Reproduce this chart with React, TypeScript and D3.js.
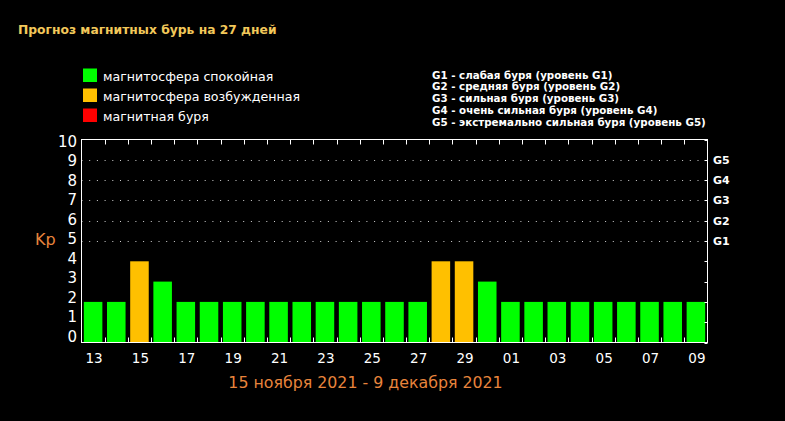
import { useEffect, useRef } from "react";
import * as d3 from "d3";

const days = ["13","14","15","16","17","18","19","20","21","22","23","24","25","26","27","28","29","30","01","02","03","04","05","06","07","08","09"];
const kp = [2,2,4,3,2,2,2,2,2,2,2,2,2,2,2,4,4,3,2,2,2,2,2,2,2,2,2];
const yTicks = [0,1,2,3,4,5,6,7,8,9,10];
const gridValues = [5,6,7,8,9];
const gLevels = ["G1","G2","G3","G4","G5"];

const legendItems = [
  { label: "магнитосфера спокойная", color: "#00ff00" },
  { label: "магнитосфера возбужденная", color: "#ffc000" },
  { label: "магнитная буря", color: "#ff0000" },
];
const gDescriptions = [
  "G1 - слабая буря (уровень G1)",
  "G2 - средняя буря (уровень G2)",
  "G3 - сильная буря (уровень G3)",
  "G4 - очень сильная буря (уровень G4)",
  "G5 - экстремально сильная буря (уровень G5)",
];

const TITLE = "Прогноз магнитных бурь на 27 дней";
const PERIOD = "15 ноября 2021 - 9 декабря 2021";

const W = 785;
const H = 421;
const FONT = "'DejaVu Sans', Verdana, sans-serif";

export default function App() {
  const ref = useRef<SVGSVGElement>(null);

  useEffect(() => {
    const svg = d3.select(ref.current);
    svg.selectAll("*").remove();

    const plot = { left: 81.5, right: 707.5, top: 139.5, bottom: 342.5 };

    const x = d3.scaleBand().domain(days).range([plot.left, plot.right]).paddingInner(0.2).paddingOuter(0.1);
    const y = d3.scaleLinear().domain([0, 10]).range([plot.bottom, plot.top]);
    // tick labels sit a bit tighter than the grid in the original
    const yLabel = d3.scaleLinear().domain([0, 10]).range([342, 146.5]);

    svg.append("rect").attr("width", W).attr("height", H).attr("fill", "#000");

    // Title
    svg.append("text")
      .text(TITLE)
      .attr("x", 18)
      .attr("y", 34)
      .attr("font-family", FONT)
      .attr("font-size", 12.3)
      .attr("font-weight", "bold")
      .attr("fill", "#f2c85a");

    // Colour legend
    legendItems.forEach((d, i) => {
      svg.append("rect")
        .attr("x", 83)
        .attr("y", 68.5 + i * 20)
        .attr("width", 14)
        .attr("height", 13.5)
        .attr("fill", d.color);
      svg.append("text")
        .text(d.label)
        .attr("x", 103)
        .attr("y", 80.5 + i * 20)
        .attr("font-family", FONT)
        .attr("font-size", 12.6)
        .attr("fill", "#fff");
    });

    // G-level legend
    gDescriptions.forEach((t, i) => {
      svg.append("text")
        .text(t)
        .attr("x", 432)
        .attr("y", 78.5 + i * 11.8)
        .attr("font-family", FONT)
        .attr("font-size", 10.3)
        .attr("font-weight", "bold")
        .attr("fill", "#fff");
    });

    // Dotted grid
    gridValues.forEach((v) => {
      svg.append("line")
        .attr("x1", plot.left)
        .attr("x2", plot.right)
        .attr("y1", Math.round(y(v)) + 0.5)
        .attr("y2", Math.round(y(v)) + 0.5)
        .attr("stroke", "#d0d0d0")
        .attr("stroke-width", 1)
        .attr("stroke-dasharray", "1,6.7");
    });

    // Bars
    kp.forEach((v, i) => {
      svg.append("rect")
        .attr("x", x(days[i])!)
        .attr("y", y(v))
        .attr("width", x.bandwidth())
        .attr("height", y(0) - y(v))
        .attr("fill", v >= 5 ? "#ff0000" : v === 4 ? "#ffc000" : "#00ff00");
    });

    // Frame
    svg.append("rect")
      .attr("x", plot.left)
      .attr("y", plot.top)
      .attr("width", plot.right - plot.left)
      .attr("height", plot.bottom - plot.top)
      .attr("fill", "none")
      .attr("stroke", "#fff")
      .attr("stroke-width", 1);

    // Ticks between bars, top and bottom
    const step = x.step();
    days.slice(1).forEach((d) => {
      const tx = Math.round(x(d)! - (step - x.bandwidth()) / 2) + 0.5;
      svg.append("line").attr("x1", tx).attr("x2", tx).attr("y1", plot.top).attr("y2", plot.top + 5).attr("stroke", "#fff");
      svg.append("line").attr("x1", tx).attr("x2", tx).attr("y1", plot.bottom).attr("y2", plot.bottom - 5).attr("stroke", "#fff");
    });

    // Right ticks
    yTicks.forEach((v) => {
      const ty = Math.round(y(v)) + 0.5;
      svg.append("line").attr("x1", plot.right - 3).attr("x2", plot.right).attr("y1", ty).attr("y2", ty).attr("stroke", "#fff");
    });

    // Y labels
    yTicks.forEach((v) => {
      svg.append("text")
        .text(v)
        .attr("x", 77)
        .attr("y", yLabel(v))
        .attr("text-anchor", "end")
        .attr("font-family", FONT)
        .attr("font-size", 15)
        .attr("fill", "#fff");
    });

    // G labels on the right
    gLevels.forEach((g, i) => {
      svg.append("text")
        .text(g)
        .attr("x", 713)
        .attr("y", y(5 + i) + 4)
        .attr("font-family", FONT)
        .attr("font-size", 11)
        .attr("font-weight", "bold")
        .attr("fill", "#fff");
    });

    // X labels, every second day
    days.forEach((d, i) => {
      if (i % 2 !== 0) return;
      svg.append("text")
        .text(d)
        .attr("x", x(d)! + x.bandwidth() / 2 + 1)
        .attr("y", 362.5)
        .attr("text-anchor", "middle")
        .attr("font-family", FONT)
        .attr("font-size", 13.5)
        .attr("fill", "#fff");
    });

    // Kp axis label
    svg.append("text")
      .text("Kp")
      .attr("x", 35)
      .attr("y", 245)
      .attr("font-family", FONT)
      .attr("font-size", 16)
      .attr("fill", "#e8843c");

    // Period
    svg.append("text")
      .text(PERIOD)
      .attr("x", 365.5)
      .attr("y", 387.5)
      .attr("text-anchor", "middle")
      .attr("font-family", FONT)
      .attr("font-size", 15.8)
      .attr("fill", "#e8843c");
  }, []);

  return (
    <svg
      ref={ref}
      width={W}
      height={H}
      style={{ position: "absolute", left: 0, top: 0, display: "block" }}
    />
  );
}
